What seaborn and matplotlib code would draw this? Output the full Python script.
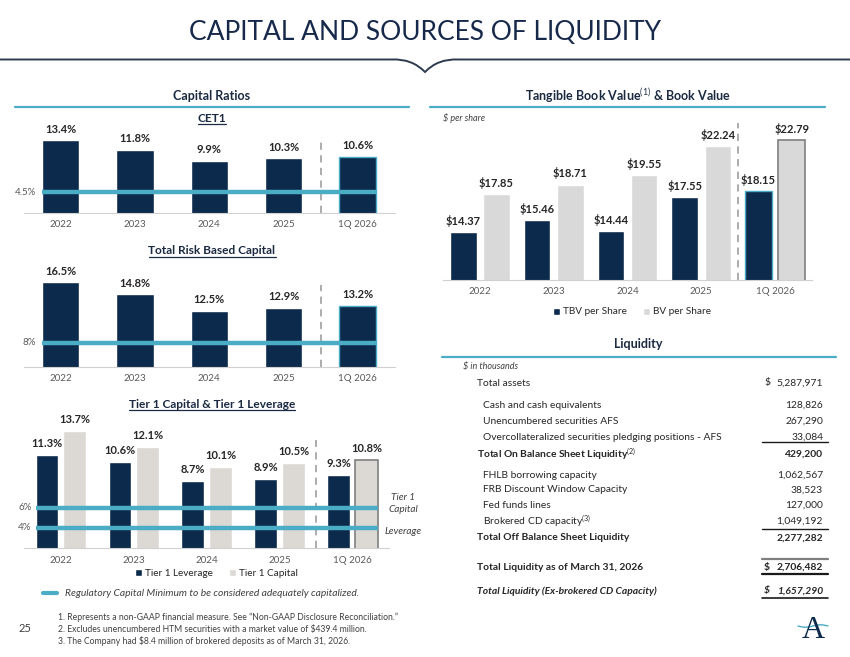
import matplotlib
matplotlib.use("Agg")
import matplotlib.pyplot as plt
import seaborn as sns
import pandas as pd
import numpy as np
from matplotlib.lines import Line2D
from matplotlib.patches import PathPatch
from matplotlib.path import Path

# ---------------- data ----------------
years = ["2022", "2023", "2024", "2025", "1Q 2026"]
cet1 = [13.4, 11.8, 9.9, 10.3, 10.6]
total_risk_based = [16.5, 14.8, 12.5, 12.9, 13.2]
tier1_leverage = [11.3, 10.6, 8.7, 8.9, 9.3]
tier1_capital = [13.7, 12.1, 10.1, 10.5, 10.8]
tbv_per_share = [14.37, 15.46, 14.44, 17.55, 18.15]
bv_per_share = [17.85, 18.71, 19.55, 22.24, 22.79]
cet1_min = 4.5
trbc_min = 8
tier1_capital_min = 6
leverage_min = 4

liq_labels = [
    "Total assets",
    "Cash and cash equivalents",
    "Unencumbered securities AFS",
    "Overcollateralized securities pledging positions - AFS",
    "Total On Balance Sheet Liquidity$^{(2)}$",
    "FHLB borrowing capacity",
    "FRB Discount Window Capacity",
    "Fed funds lines",
    "Brokered CD capacity$^{(3)}$",
    "Total Off Balance Sheet Liquidity",
    "Total Liquidity as of March 31, 2026",
    "Total Liquidity (Ex-brokered CD Capacity)",
]
liq_values = ["5,287,971", "128,826", "267,290", "33,084", "429,200",
              "1,062,567", "38,523", "127,000", "1,049,192", "2,277,282",
              "2,706,482", "1,657,290"]

footnotes = [
    "1. Represents a non-GAAP financial measure. See \u201cNon-GAAP Disclosure Reconciliation.\u201d",
    "2. Excludes unencumbered HTM securities with a market value of $439.4 million.",
    "3. The Company had $8.4 million of brokered deposits as of March 31, 2026.",
]

# ---------------- style ----------------
sns.set_theme(style="white")
plt.rcParams["font.family"] = ["Lato", "DejaVu Sans"]
plt.rcParams["mathtext.fontset"] = "custom"
plt.rcParams["mathtext.rm"] = "Lato"
plt.rcParams["mathtext.it"] = "Lato:italic"
plt.rcParams["mathtext.bf"] = "Lato:bold"

NAVY = "#0c2a4b"
LGRAY = "#d9d9d9"
WGRAY = "#dcd9d4"
TEAL = "#4bacc6"
TXT = "#262626"
TICK = "#595959"
HEAD = "#1b2a41"

W, H = 850, 657
fig = plt.figure(figsize=(8.5, 6.57), dpi=100)
fig.patch.set_facecolor("white")


def ax_px(x0, y0, x1, y1):
    return fig.add_axes([x0 / W, 1 - y1 / H, (x1 - x0) / W, (y1 - y0) / H])


def ftext(x, y, s, **kw):
    return fig.text(x / W, 1 - y / H, s, **kw)


def fline(x0, x1, y0, y1, **kw):
    fig.add_artist(Line2D([x0 / W, x1 / W], [1 - y0 / H, 1 - y1 / H],
                          transform=fig.transFigure, **kw))


def style_ax(ax, ylim, pad=5):
    ax.set_xlim(-0.5, 4.5)
    ax.set_ylim(*ylim)
    for s in ["top", "right", "left"]:
        ax.spines[s].set_visible(False)
    ax.spines["bottom"].set_color("#d0d0d0")
    ax.spines["bottom"].set_linewidth(0.8)
    ax.set_yticks([])
    ax.set_xlabel("")
    ax.set_ylabel("")
    ax.tick_params(axis="x", which="major", length=0, labelsize=7,
                   labelcolor=TICK, pad=pad)
    ax.set_xticks(np.arange(-0.5, 5, 1), minor=True)
    ax.tick_params(axis="x", which="minor", length=3, color="#d0d0d0", width=0.8)
    ax.patch.set_alpha(0)


def annotate(ax, container, values, fmt):
    for bar, v in zip(container, values):
        ax.annotate(fmt.format(v), (bar.get_x() + bar.get_width() / 2, bar.get_height()),
                    xytext=(0, 8), textcoords="offset points", ha="center",
                    va="center", fontsize=8, fontweight="bold", color=TXT)


def separator(ax, top):
    ax.axvline(3.5, ymin=0, ymax=top, color="#a6a6a6", ls=(0, (4, 3)), lw=1.3)


# ---------------- header ----------------
ftext(425, 32, "CAPITAL AND SOURCES OF LIQUIDITY", ha="center", va="center",
      fontsize=19, color="#17294a")
verts = [(0, 59.5), (392, 59.5), (412, 58.5), (425, 72), (438, 58.5), (458, 59.5), (850, 59.5)]
verts_fig = [(x / W, 1 - y / H) for x, y in verts]
codes = [Path.MOVETO, Path.LINETO, Path.CURVE3, Path.CURVE3, Path.CURVE3, Path.CURVE3, Path.LINETO]
fig.add_artist(PathPatch(Path(verts_fig, codes), transform=fig.transFigure,
                         fill=False, edgecolor="#2e3b4e", lw=1.4))

# section headers
ftext(212, 96, "Capital Ratios", ha="center", va="center", fontsize=9,
      fontweight="bold", color=HEAD)
fline(15, 409, 106.5, 106.5, color=TEAL, lw=1.6)
ftext(628, 96, r"Tangible Book Value$^{(1)}$ & Book Value", ha="center", va="center",
      fontsize=9, fontweight="bold", color=HEAD)
fline(430, 825, 106.5, 106.5, color=TEAL, lw=1.6)
ftext(638, 344, "Liquidity", ha="center", va="center", fontsize=9,
      fontweight="bold", color=HEAD)
fline(442, 836, 357.3, 357.3, color=TEAL, lw=1.6)

fig.canvas.draw()
renderer = fig.canvas.get_renderer()


def underlined(x, y, s):
    t = ftext(x, y, s, ha="center", va="center", fontsize=8.6, fontweight="bold", color=HEAD)
    bb = t.get_window_extent(renderer)
    fline(bb.x0, bb.x1, y + 5.8, y + 5.8, color=HEAD, lw=0.9)


underlined(212, 118, "CET1")
underlined(212, 251, "Total Risk Based Capital")
underlined(212, 404, "Tier 1 Capital & Tier 1 Leverage")

# ---------------- CET1 ----------------
ax1 = ax_px(23.6, 125, 395, 212.7)
df1 = pd.DataFrame({"year": years, "value": cet1})
sns.barplot(data=df1, x="year", y="value", color=NAVY, saturation=1, width=0.5,
            errorbar=None, ax=ax1, zorder=2)
style_ax(ax1, (1, 16))
annotate(ax1, ax1.containers[0], cet1, "{:.1f}%")
ax1.containers[0][4].set_edgecolor(TEAL)
ax1.containers[0][4].set_linewidth(1.0)
separator(ax1, 0.86)
ax1.hlines(cet1_min, -0.25, 4.25, color=TEAL, lw=3.2, zorder=5)
ax1.text(-0.33, cet1_min, f"{cet1_min}%", ha="right", va="center", fontsize=7, color=TICK)

# ---------------- Total Risk Based ----------------
ax2 = ax_px(23.6, 270, 395, 367.3)
df2 = pd.DataFrame({"year": years, "value": total_risk_based})
sns.barplot(data=df2, x="year", y="value", color=NAVY, saturation=1, width=0.5,
            errorbar=None, ax=ax2, zorder=2)
style_ax(ax2, (4.5, 18.24))
annotate(ax2, ax2.containers[0], total_risk_based, "{:.1f}%")
ax2.containers[0][4].set_edgecolor(TEAL)
ax2.containers[0][4].set_linewidth(1.0)
separator(ax2, 0.85)
ax2.hlines(trbc_min, -0.25, 4.25, color=TEAL, lw=3.2, zorder=5)
ax2.text(-0.33, trbc_min, f"{trbc_min}%", ha="right", va="center", fontsize=7, color=TICK)

# ---------------- Tier 1 ----------------
ax3 = ax_px(24.3, 425, 389, 547.7)
t1_order = ["Tier 1 Leverage", "Tier 1 Capital"]
df3 = pd.DataFrame({
    "year": years * 2,
    "value": tier1_leverage + tier1_capital,
    "series": [t1_order[0]] * 5 + [t1_order[1]] * 5,
})
sns.barplot(data=df3, x="year", y="value", hue="series", hue_order=t1_order,
            palette={t1_order[0]: NAVY, t1_order[1]: WGRAY}, saturation=1,
            width=0.76, gap=0.184, errorbar=None, legend=False, ax=ax3, zorder=2)
style_ax(ax3, (2, 14.3), pad=6)
annotate(ax3, ax3.containers[0], tier1_leverage, "{:.1f}%")
annotate(ax3, ax3.containers[1], tier1_capital, "{:.1f}%")
ax3.containers[1][4].set_edgecolor("#7f7f7f")
ax3.containers[1][4].set_linewidth(1.2)
separator(ax3, 0.88)
ax3.hlines([tier1_capital_min, leverage_min], -0.345, 4.345, color=TEAL, lw=3.2, zorder=5)
ax3.text(-0.4, tier1_capital_min, f"{tier1_capital_min}%", ha="right", va="center",
         fontsize=7, color=TICK)
ax3.text(-0.4, leverage_min, f"{leverage_min}%", ha="right", va="center",
         fontsize=7, color=TICK)
ax3.legend(ax3.containers, t1_order, loc="center", bbox_to_anchor=(0.528, -0.21),
           ncol=2, frameon=False, fontsize=7.2, handlelength=0.7, handleheight=0.7,
           handletextpad=0.3, columnspacing=1.6, labelcolor=TXT)
ftext(403, 497, "Tier 1", ha="center", va="center", fontsize=7.2, style="italic", color="#404040")
ftext(403, 509, "Capital", ha="center", va="center", fontsize=7.2, style="italic", color="#404040")
ftext(403, 532, "Leverage", ha="center", va="center", fontsize=7.2, style="italic", color="#404040")

fline(43, 57, 593.3, 593.3, color=TEAL, lw=3)
ftext(65, 593.3, "Regulatory Capital Minimum to be considered adequately capitalized.",
      ha="left", va="center", fontsize=7.4, style="italic", color="#404040")

# ---------------- TBV / BV ----------------
ax4 = ax_px(443, 120, 812, 280)
bv_order = ["TBV per Share", "BV per Share"]
df4 = pd.DataFrame({
    "year": years * 2,
    "value": tbv_per_share + bv_per_share,
    "series": [bv_order[0]] * 5 + [bv_order[1]] * 5,
})
sns.barplot(data=df4, x="year", y="value", hue="series", hue_order=bv_order,
            palette={bv_order[0]: NAVY, bv_order[1]: LGRAY}, saturation=1,
            width=0.9, gap=0.2, errorbar=None, legend=False, ax=ax4, zorder=2)
style_ax(ax4, (10, 24.6))
annotate(ax4, ax4.containers[0], tbv_per_share, "${:.2f}")
annotate(ax4, ax4.containers[1], bv_per_share, "${:.2f}")
ax4.containers[0][4].set_edgecolor(TEAL)
ax4.containers[0][4].set_linewidth(1.0)
ax4.containers[1][4].set_edgecolor("#7f7f7f")
ax4.containers[1][4].set_linewidth(1.2)
separator(ax4, 0.98)
ax4.legend(ax4.containers, bv_order, loc="center", bbox_to_anchor=(0.512, -0.2),
           ncol=2, frameon=False, fontsize=7.2, handlelength=0.7, handleheight=0.7,
           handletextpad=0.3, columnspacing=1.6, labelcolor=TXT)
ftext(443, 118, "$ per share", ha="left", va="center", fontsize=6.5,
      style="italic", color="#404040")

# ---------------- Liquidity table ----------------
ftext(463, 367, "$ in thousands", ha="left", va="center", fontsize=6.5,
      style="italic", color="#404040")
row_y = [383, 405, 421, 437, 454, 475, 490, 505, 521.5, 537.7, 567.3, 591]
row_x = [477, 483, 483, 483, 477, 483, 483, 483, 483, 477, 477, 477]
row_bold = [False, False, False, False, True, False, False, False, False, True, True, True]
row_italic = [False] * 11 + [True]
row_dollar = [True] + [False] * 9 + [True, True]
for lab, val, y, x, b, it, d in zip(liq_labels, liq_values, row_y, row_x,
                                     row_bold, row_italic, row_dollar):
    kw = dict(va="center", fontsize=7.4, color=TXT,
              fontweight="bold" if b else "normal",
              style="italic" if it else "normal")
    ftext(x, y, lab, ha="left", **kw)
    ftext(823, y, val, ha="right", **kw)
    if d:
        ftext(764, y, "$", ha="left", **kw)

fline(762, 828, 442.3, 442.3, color="#1a1a1a", lw=1.0)
fline(762, 828, 528.7, 528.7, color="#1a1a1a", lw=1.0)
fline(762, 828, 558.7, 558.7, color="#7f7f7f", lw=1.6)
fline(762, 828, 574.3, 574.3, color="#1a1a1a", lw=1.6)
fline(762, 828, 598.3, 598.3, color="#1a1a1a", lw=1.2)

# ---------------- footer ----------------
ftext(25, 629, "25", ha="center", va="center", fontsize=8, color="#404040")
for i, fn in enumerate(footnotes):
    ftext(58, 617 + 12.2 * i, fn.replace("$", r"\$"), ha="left", va="center",
          fontsize=6.2, color="#404040")
ftext(813, 630, "A", ha="center", va="center", fontsize=23, color=NAVY,
      family=["Liberation Serif", "DejaVu Serif"])
wx = np.linspace(798, 828, 30)
wy = 626 + 1.2 * np.sin((wx - 798) / 30 * 2 * np.pi)
fig.add_artist(Line2D(wx / W, 1 - wy / H, transform=fig.transFigure, color=TEAL, lw=1.0))

fig.savefig("out.png", dpi=100, facecolor="white")
